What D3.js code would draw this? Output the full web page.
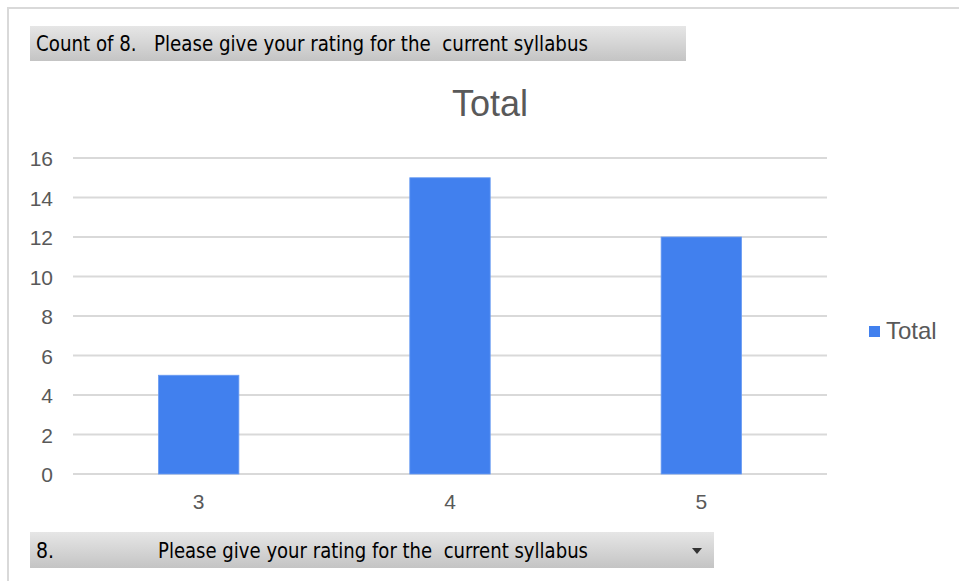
<!DOCTYPE html>
<html>
<head>
<meta charset="utf-8">
<script src="https://cdn.jsdelivr.net/npm/d3@7"></script>
<style>
  body { margin: 0; background: #fff; }
  svg { display: block; }
</style>
</head>
<body>
<svg id="chart" width="959" height="581"></svg>
<script>
// donnees du graphique
var categories = ["3", "4", "5"];
var totals = [5, 15, 12];
var yTicks = [0, 2, 4, 6, 8, 10, 12, 14, 16];
var chartTitle = "Total";
var seriesName = "Total";
var filterLabel = "Count of 8.   Please give your rating for the  current syllabus";
var axisFieldNum = "8.";
var axisFieldLabel = "Please give your rating for the  current syllabus";

var svg = d3.select("#chart");
var W = 959, H = 581;

// cadre gris
svg.append("line").attr("x1", 7).attr("x2", W).attr("y1", 8).attr("y2", 8)
  .attr("stroke", "#d9d9d9").attr("stroke-width", 2);
svg.append("line").attr("x1", 8).attr("x2", 8).attr("y1", 8).attr("y2", H)
  .attr("stroke", "#d9d9d9").attr("stroke-width", 2);

// degrade des boutons
var defs = svg.append("defs");
var grad = defs.append("linearGradient").attr("id", "btn").attr("x1", 0).attr("x2", 0).attr("y1", 0).attr("y2", 1);
grad.append("stop").attr("offset", "0%").attr("stop-color", "#e6e6e6");
grad.append("stop").attr("offset", "100%").attr("stop-color", "#c4c4c4");

var btnFont = "'Liberation Sans Narrow', 'DejaVu Sans Condensed', sans-serif";
var axisFont = "'Liberation Sans', Arial, sans-serif";

// bouton du haut
svg.append("rect").attr("x", 30).attr("y", 26).attr("width", 656).attr("height", 35).attr("fill", "url(#btn)");
svg.append("text").attr("x", 36).attr("y", 51)
  .attr("font-family", btnFont).attr("font-size", 21).attr("fill", "#000")
  .attr("textLength", 552).attr("lengthAdjust", "spacingAndGlyphs")
  .style("white-space", "pre")
  .text(filterLabel);

// bouton du bas
svg.append("rect").attr("x", 30).attr("y", 532).attr("width", 684).attr("height", 36).attr("fill", "url(#btn)");
svg.append("text").attr("x", 36).attr("y", 558)
  .attr("font-family", btnFont).attr("font-size", 21).attr("fill", "#000")
  .text(axisFieldNum);
svg.append("text").attr("x", 158).attr("y", 558)
  .attr("font-family", btnFont).attr("font-size", 21).attr("fill", "#000")
  .attr("textLength", 430).attr("lengthAdjust", "spacingAndGlyphs")
  .style("white-space", "pre")
  .text(axisFieldLabel);
svg.append("path").attr("d", "M692,548 L702,548 L697,554 Z").attr("fill", "#333");

// zone de trace
var margin = { left: 73, right: 827, top: 158, bottom: 474 };
var x = d3.scaleBand().domain(categories).range([margin.left, margin.right]).paddingInner(0.68).paddingOuter(0.34);
var y = d3.scaleLinear().domain([0, 16]).range([margin.bottom, margin.top]);

// titre
svg.append("text").attr("x", 490).attr("y", 116).attr("text-anchor", "middle")
  .attr("font-family", axisFont).attr("font-size", 36)
  .attr("fill", "#595959").text(chartTitle);

// grille
svg.append("g").selectAll("line").data(yTicks).enter().append("line")
  .attr("x1", margin.left).attr("x2", margin.right)
  .attr("y1", function(d){ return y(d); }).attr("y2", function(d){ return y(d); })
  .attr("stroke", "#d9d9d9").attr("stroke-width", 2);

// axe y
var yAxis = svg.append("g").attr("transform", "translate(" + 53 + ",0)")
  .call(d3.axisLeft(y).tickValues(yTicks).tickSize(0).tickPadding(0));
yAxis.select(".domain").remove();
yAxis.selectAll("text").attr("font-family", axisFont)
  .attr("font-size", 21).attr("fill", "#595959").attr("dy", "0.36em");

// barres
svg.append("g").selectAll("rect").data(totals).enter().append("rect")
  .attr("x", function(d, i){ return x(categories[i]); })
  .attr("width", x.bandwidth())
  .attr("y", function(d){ return y(d); })
  .attr("height", function(d){ return y(0) - y(d); })
  .attr("fill", "#4180ee").attr("stroke", "#6a9cf2").attr("stroke-width", 0.8);

// axe x
var xAxis = svg.append("g").attr("transform", "translate(0," + 493 + ")")
  .call(d3.axisBottom(x).tickSize(0).tickPadding(0));
xAxis.select(".domain").remove();
xAxis.selectAll("text").attr("font-family", axisFont)
  .attr("font-size", 21).attr("fill", "#595959").attr("dy", "0.75em");

// legende
svg.append("rect").attr("x", 869).attr("y", 326).attr("width", 11).attr("height", 11).attr("fill", "#4180ee");
svg.append("text").attr("x", 886).attr("y", 339)
  .attr("font-family", axisFont).attr("font-size", 24)
  .attr("fill", "#595959").text(seriesName);
</script>
</body>
</html>
